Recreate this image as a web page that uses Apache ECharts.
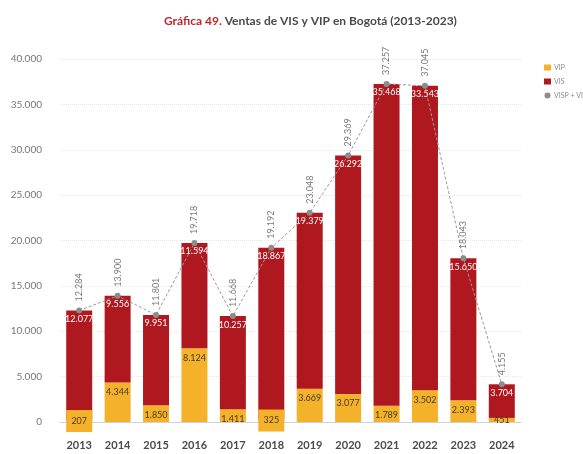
<!DOCTYPE html>
<html><head><meta charset="utf-8">
<script src="https://cdn.jsdelivr.net/npm/echarts@6/dist/echarts.min.js"></script>
<style>html,body{margin:0;padding:0;background:#fff}#c{width:583px;height:454px}</style>
</head><body><div id="c"></div>
<script>
const years = ['2013','2014','2015','2016','2017','2018','2019','2020','2021','2022','2023','2024'];
const vip = [207, 4344, 1850, 8124, 1411, 325, 3669, 3077, 1789, 3502, 2393, 451];
const vis = [12077, 9556, 9951, 11594, 10257, 18867, 19379, 26292, 35468, 33543, 15650, 3704];
const total = [12284, 13900, 11801, 19718, 11668, 19192, 23048, 29369, 37257, 37045, 18043, 4155];
const yTicks = [0, 5000, 10000, 15000, 20000, 25000, 30000, 35000, 40000];

const fmt = v => String(v).replace(/\B(?=(\d{3})+(?!\d))/g, '.');
const FONT = 'Lato, "Open Sans", sans-serif';
const RED = '#B0181F', YEL = '#F3B22A';

const vipData = vip.map((v, i) => {
  const d = { value: v };
  if (v < 1000 && i !== vip.length - 1) {
    d.label = { position: 'inside', backgroundColor: YEL, width: 26, height: 22, align: 'center', verticalAlign: 'middle', lineHeight: 22 };
  }
  if (i === vip.length - 1) {
    d.label = { position: 'inside' };
  }
  return d;
});

const chart = echarts.init(document.getElementById('c'), null, { renderer: 'canvas' });
chart.setOption({
  animation: false,
  backgroundColor: '#fff',
  title: {
    left: 159, top: 10,
    text: '{r|Gráfica 49.}{d| Ventas de VIS y VIP en Bogotá (2013-2023)}',
    textStyle: {
      rich: {
        r: { color: '#C0262D', fontWeight: 'bold', fontSize: 12, fontFamily: FONT },
        d: { color: '#4a4a4a', fontWeight: 'bold', fontSize: 12, fontFamily: FONT }
      }
    }
  },
  legend: {
    orient: 'vertical', left: 539, top: 59, itemWidth: 7, itemHeight: 6, itemGap: 7,
    textStyle: { fontSize: 7, color: '#8a8a8a', fontFamily: FONT, padding: [0, 0, 0, -2] },
    data: [
      { name: 'VIP', icon: 'rect' },
      { name: 'VIS', icon: 'rect' },
      { name: 'VISP + VIS', icon: 'circle' }
    ]
  },
  grid: { left: 60, right: 62, top: 59, bottom: 32 },
  xAxis: {
    type: 'category', data: years,
    axisLine: { show: true, lineStyle: { color: '#c9d2de', width: 1 } },
    axisTick: { show: false },
    axisLabel: { color: '#4a4a4a', fontWeight: 'bold', fontSize: 11, fontFamily: FONT, margin: 18 }
  },
  yAxis: {
    type: 'value', min: 0, max: 40000, interval: 5000,
    axisLine: { show: false }, axisTick: { show: false },
    axisLabel: { color: '#777', fontSize: 10, fontFamily: FONT, margin: 18, formatter: v => fmt(v) },
    splitLine: { lineStyle: { color: '#e8e8e8', type: 'dotted', width: 1 } }
  },
  series: [
    {
      name: 'VIP', type: 'bar', stack: 's', barWidth: 26, data: vipData,
      itemStyle: { color: YEL },
      label: { show: true, position: 'insideTop', color: '#4a3a1c', fontSize: 9, fontFamily: FONT, formatter: p => fmt(p.value) }
    },
    {
      name: 'VIS', type: 'bar', stack: 's', barWidth: 26, data: vis,
      itemStyle: { color: RED },
      label: { show: true, position: 'insideTop', distance: 4, color: '#fff', fontSize: 9, fontFamily: FONT, formatter: p => fmt(p.value) }
    },
    {
      name: 'VISP + VIS', type: 'line', data: total, z: 5,
      symbol: 'circle', symbolSize: 6,
      itemStyle: { color: '#8c8c8c' },
      lineStyle: { color: '#9a9a9a', width: 1, type: [3, 2] },
      label: { show: true, position: 'top', rotate: 90, align: 'left', verticalAlign: 'middle', distance: 6, color: '#7a7a7a', fontSize: 9, fontFamily: FONT, formatter: p => fmt(p.value) }
    }
  ]
});
</script>
</body></html>
